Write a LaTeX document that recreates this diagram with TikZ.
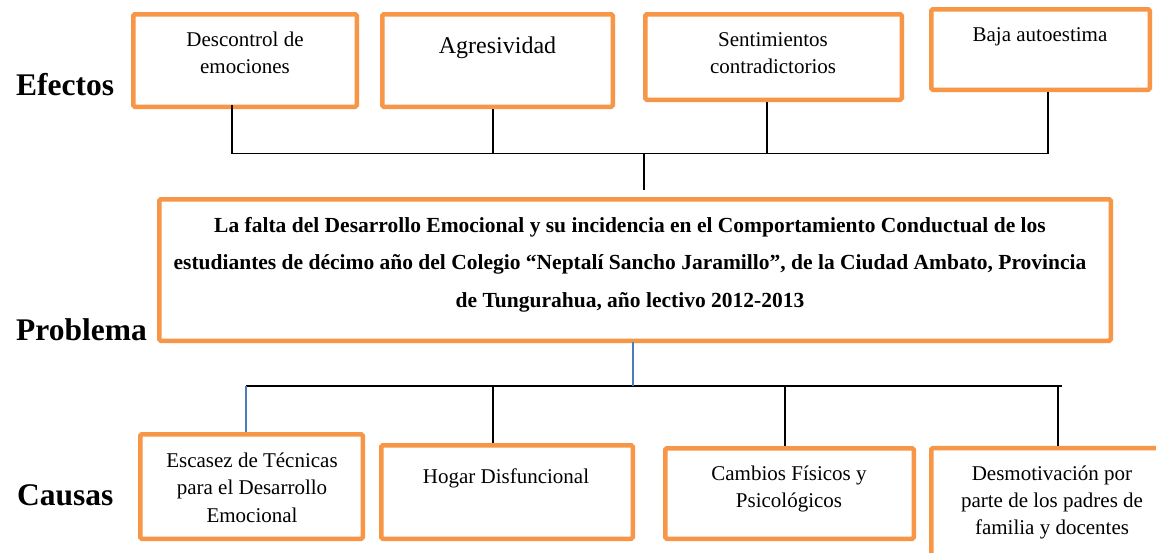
\documentclass[tikz,border=0pt]{standalone}
\usepackage{fontspec}
\setmainfont{Liberation Serif}
\definecolor{orangeC}{HTML}{F79646}
\definecolor{blueC}{HTML}{4A7EBB}
\begin{document}
\begin{tikzpicture}[x=1pt,y=-1pt,
  box/.style={draw=orangeC, line width=4.5pt, rounded corners=1.5pt, inner sep=0pt, fill=white},
  lbl/.style={font=\fontsize{31.5}{36}\selectfont\bfseries, anchor=base west, inner sep=0pt},
  btxt/.style={font=\fontsize{21}{27}\selectfont, align=center, anchor=base, inner sep=0pt},
  ptxt/.style={font=\fontsize{21.5}{37.5}\selectfont\bfseries, align=center, anchor=base, inner sep=0pt},
  conn/.style={line width=1.5pt, black},
  bconn/.style={line width=1.3pt, blueC}]
\useasboundingbox (0,0) rectangle (1156,552);
\clip (0,0) rectangle (1156,552);
\fill[white] (0,0) rectangle (1156,552);

% effects
\node[box, minimum width=223.5pt, minimum height=92.5pt] (e1) at (245,60.5) {};
\node[box, minimum width=230.5pt, minimum height=92.5pt] (e2) at (497.5,60.5) {};
\node[box, minimum width=256.5pt, minimum height=85.5pt] (e3) at (773.5,57) {};
\node[box, minimum width=218.5pt, minimum height=80.5pt] (e4) at (1040.5,49.5) {};
\node[btxt] (e1t) at (245,73) {Descontrol de\\emociones};
\node[btxt, font=\fontsize{24}{28}\selectfont] (e2t) at (497.5,53) {Agresividad};
\node[btxt] (e3t) at (773,73) {Sentimientos\\contradictorios};
\node[btxt] (e4t) at (1040,41) {Baja autoestima};

% problem
\node[box, minimum width=951.5pt, minimum height=141.5pt] (p) at (635,270) {};
\node[ptxt] (pt) at (630,307) {La falta del Desarrollo Emocional y su incidencia en el Comportamiento Conductual de los\\
estudiantes de décimo año del Colegio “Neptalí Sancho Jaramillo”, de la Ciudad Ambato, Provincia\\
de Tungurahua, año lectivo 2012-2013};

% causes
\node[box, minimum width=222.5pt, minimum height=104.5pt] (c1) at (251.5,486.5) {};
\node[box, minimum width=251.5pt, minimum height=93.5pt] (c2) at (507,492) {};
\node[box, minimum width=248.5pt, minimum height=90.5pt] (c3) at (789.5,493.5) {};
\node[box, minimum width=241.5pt, minimum height=110pt] (c4) at (1052,503) {};
\node[btxt, font=\fontsize{21}{27.5}\selectfont] (c1t) at (252,522) {Escasez de Técnicas\\para el Desarrollo\\Emocional};
\node[btxt] (c2t) at (506,483) {Hogar Disfuncional};
\node[btxt] (c3t) at (789,507) {Cambios Físicos y\\Psicológicos};
\node[btxt] (c4t) at (1052,534) {Desmotivación por\\parte de los padres de\\familia y docentes};

% side labels
\node[lbl] (lef) at (16,95) {Efectos};
\node[lbl] (lpr) at (16,340) {Problema};
\node[lbl] (lca) at (17,505) {Causas};

% top connectors
\coordinate (tl) at (232,153.5);
\coordinate (tr) at (1048,153.5);
\coordinate (pm) at (644,190);
\draw[conn] ([yshift=4pt]e1.south -| tl) -- (tl) -- (tr) -- (e4.south -| tr);
\draw[conn] (e2.south -| 493,0) -- (tl -| 493,0);
\draw[conn] (e3.south -| 767,0) -- (tl -| 767,0);
\draw[conn] (tl -| pm) -- (pm);

% bottom connectors
\coordinate (bl) at (246,386);
\coordinate (br) at (1062,386);
\draw[conn] (bl) -- (br);
\draw[bconn] ([yshift=1pt]p.south -| 633,0) -- (bl -| 633,0);
\draw[bconn] (bl) -- (c1.north -| bl);
\draw[conn] (bl -| 493,0) -- (c2.north -| 493,0);
\draw[conn] (bl -| 785,0) -- (c3.north -| 785,0);
\draw[conn] (bl -| 1058,0) -- (c4.north -| 1058,0);
\end{tikzpicture}
\end{document}
